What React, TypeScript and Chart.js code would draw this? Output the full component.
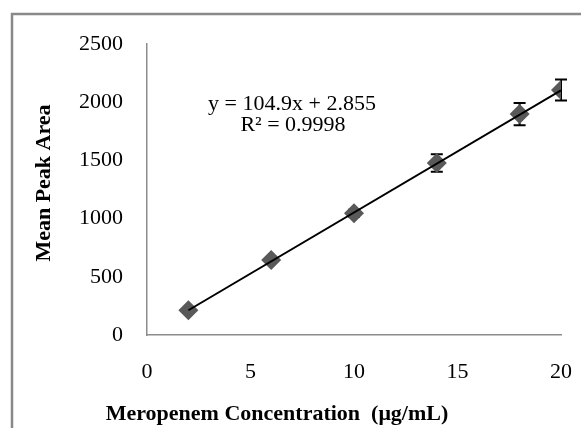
import React, { useEffect, useRef } from "react";
import { Chart, registerables } from "chart.js";

Chart.register(...registerables);

const concentrations = [2, 6, 10, 14, 18, 20];
const meanPeakArea = [213, 644, 1046, 1478, 1898, 2104];
const errorSD = [10, 15, 30, 75, 95, 90];
const trendSlope = 104.9;
const trendIntercept = 2.855;
const equationText = "y = 104.9x + 2.855";
const r2Text = "R² = 0.9998";
const xTitle = "Meropenem Concentration  (μg/mL)";
const yTitle = "Mean Peak Area";

const FONT = "'Liberation Serif', 'Times New Roman', serif";

export default function App() {
  const ref = useRef<HTMLCanvasElement | null>(null);

  useEffect(() => {
    if (!ref.current) return;
    const points = concentrations.map((x, i) => ({ x, y: meanPeakArea[i] }));
    const xs = [concentrations[0], concentrations[concentrations.length - 1]];
    const trend = xs.map((x) => ({ x, y: trendSlope * x + trendIntercept }));

    const errorBars = {
      id: "errorBars",
      beforeDatasetsDraw(chart: any) {
        const { ctx, scales } = chart;
        ctx.save();
        ctx.strokeStyle = "#000";
        ctx.lineWidth = 2;
        concentrations.forEach((x, i) => {
          const px = scales.x.getPixelForValue(x);
          const top = scales.y.getPixelForValue(meanPeakArea[i] + errorSD[i]);
          const bot = scales.y.getPixelForValue(meanPeakArea[i] - errorSD[i]);
          ctx.beginPath();
          ctx.moveTo(px, top);
          ctx.lineTo(px, bot);
          ctx.moveTo(px - 6, top);
          ctx.lineTo(px + 6, top);
          ctx.moveTo(px - 6, bot);
          ctx.lineTo(px + 6, bot);
          ctx.stroke();
        });
        ctx.restore();
      },
    };

    const decorations = {
      id: "decorations",
      afterDraw(chart: any) {
        const { ctx } = chart;
        ctx.save();
        ctx.strokeStyle = "#898989";
        ctx.lineWidth = 2.5;
        ctx.strokeRect(12, 14, 1000, 1000);

        ctx.fillStyle = "#000";
        ctx.textAlign = "center";
        ctx.textBaseline = "middle";
        ctx.font = `22px ${FONT}`;
        ctx.fillText(equationText, 292, 104);
        ctx.fillText(r2Text, 293, 125);

        ctx.font = `bold 22px ${FONT}`;
        ctx.fillText(xTitle, 277, 414);

        ctx.translate(44, 183);
        ctx.rotate(-Math.PI / 2);
        ctx.fillText(yTitle, 0, 0);
        ctx.restore();
      },
    };

    const chart = new Chart(ref.current, {
      type: "scatter",
      data: {
        datasets: [
          {
            data: trend,
            showLine: true,
            borderColor: "#000",
            borderWidth: 2,
            pointRadius: 0,
            order: 0,
          },
          {
            data: points,
            pointStyle: "rectRot",
            pointRadius: 10,
            backgroundColor: "#595959",
            borderWidth: 0,
            order: 1,
          },
        ],
      },
      options: {
        responsive: false,
        animation: false,
        layout: { padding: { top: 44, right: 20, left: 0, bottom: 0 } },
        plugins: { legend: { display: false }, tooltip: { enabled: false } },
        scales: {
          x: {
            type: "linear",
            min: 0,
            max: 20,
            grid: { display: false, drawTicks: false },
            border: { display: true, color: "#8c8c8c", width: 1.5 },
            ticks: {
              stepSize: 5,
              padding: 24,
              color: "#000",
              font: { family: FONT, size: 22 },
              callback: (v: any) => String(v),
            },
            afterFit(s: any) {
              s.height = 93;
              s.paddingLeft = 0;
              s.paddingRight = 0;
            },
          },
          y: {
            type: "linear",
            min: 0,
            max: 2500,
            grid: { display: false, drawTicks: false },
            border: { display: true, color: "#8c8c8c", width: 1.5 },
            ticks: {
              stepSize: 500,
              padding: 24,
              color: "#000",
              font: { family: FONT, size: 22 },
              callback: (v: any) => String(v),
            },
            afterFit(s: any) {
              s.width = 147;
              s.paddingTop = 0;
              s.paddingBottom = 0;
            },
          },
        },
      },
      plugins: [errorBars, decorations],
    });
    return () => chart.destroy();
  }, []);

  return (
    <div style={{ position: "absolute", left: 0, top: 0, width: 581, height: 428, background: "#fff" }}>
      <canvas ref={ref} width={581} height={428} style={{ display: "block" }} />
    </div>
  );
}
